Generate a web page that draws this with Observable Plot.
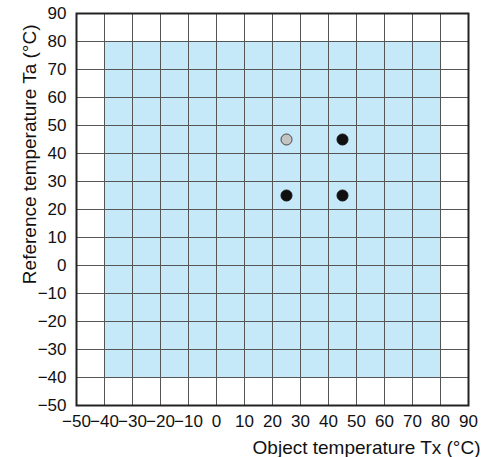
<!DOCTYPE html>
<html>
<head>
<meta charset="utf-8">
<script src="https://cdn.jsdelivr.net/npm/d3@7"></script>
<script src="https://cdn.jsdelivr.net/npm/@observablehq/plot@0.6"></script>
<style>
  body { margin: 0; background: #fff; }
  svg { font-family: "Liberation Sans", Arial, sans-serif; }
</style>
</head>
<body>
<div id="chart"></div>
<script>
const tickValues = [-50, -40, -30, -20, -10, 0, 10, 20, 30, 40, 50, 60, 70, 80, 90];
const regionX = [-40, 80];
const regionY = [-40, 80];
const pointX = [25, 45, 25, 45];
const pointY = [45, 45, 25, 25];
const pointKind = ["grey", "black", "black", "black"];
const xLabel = "Object temperature Tx (°C)";
const yLabel = "Reference temperature Ta (°C)";

const region = [{x1: regionX[0], x2: regionX[1], y1: regionY[0], y2: regionY[1]}];
const points = pointX.map((x, i) => ({x, y: pointY[i], kind: pointKind[i]}));

const chart = Plot.plot({
  width: 481,
  height: 457,
  marginLeft: 76,
  marginTop: 13,
  marginRight: 13,
  marginBottom: 52,
  style: {fontSize: "17px", fontFamily: "Liberation Sans, Arial, sans-serif", color: "#111"},
  x: {domain: [-50, 90], ticks: tickValues, label: null},
  y: {domain: [-50, 90], ticks: tickValues, label: null},
  marks: [
    Plot.rect(region, {x1: "x1", x2: "x2", y1: "y1", y2: "y2", fill: "#c6e9f9"}),
    Plot.gridX(tickValues, {stroke: "#555", strokeOpacity: 1, strokeWidth: 1}),
    Plot.gridY(tickValues, {stroke: "#555", strokeOpacity: 1, strokeWidth: 1}),
    Plot.frame({stroke: "#222", strokeWidth: 2}),
    Plot.axisX(tickValues, {tickSize: 0, tickPadding: 9, fontSize: 17, label: null, fill: "#111"}),
    Plot.axisY(tickValues, {tickSize: 0, tickPadding: 10, fontSize: 17, label: null, fill: "#111"}),
    Plot.dot(points, {x: "x", y: "y", r: 5.5, fill: d => d.kind === "grey" ? "#c4c4c4" : "#111", stroke: d => d.kind === "grey" ? "#444" : "#111", strokeWidth: 1}),
    Plot.text([xLabel], {frameAnchor: "bottom-right", textAnchor: "end", dx: 12, dy: 48, fontSize: 19, fill: "#111"}),
    Plot.text([yLabel], {frameAnchor: "top-left", textAnchor: "end", rotate: -90, dx: -54, dy: 11, fontSize: 19, fill: "#111"})
  ]
});
document.getElementById("chart").appendChild(chart);
</script>
</body>
</html>
